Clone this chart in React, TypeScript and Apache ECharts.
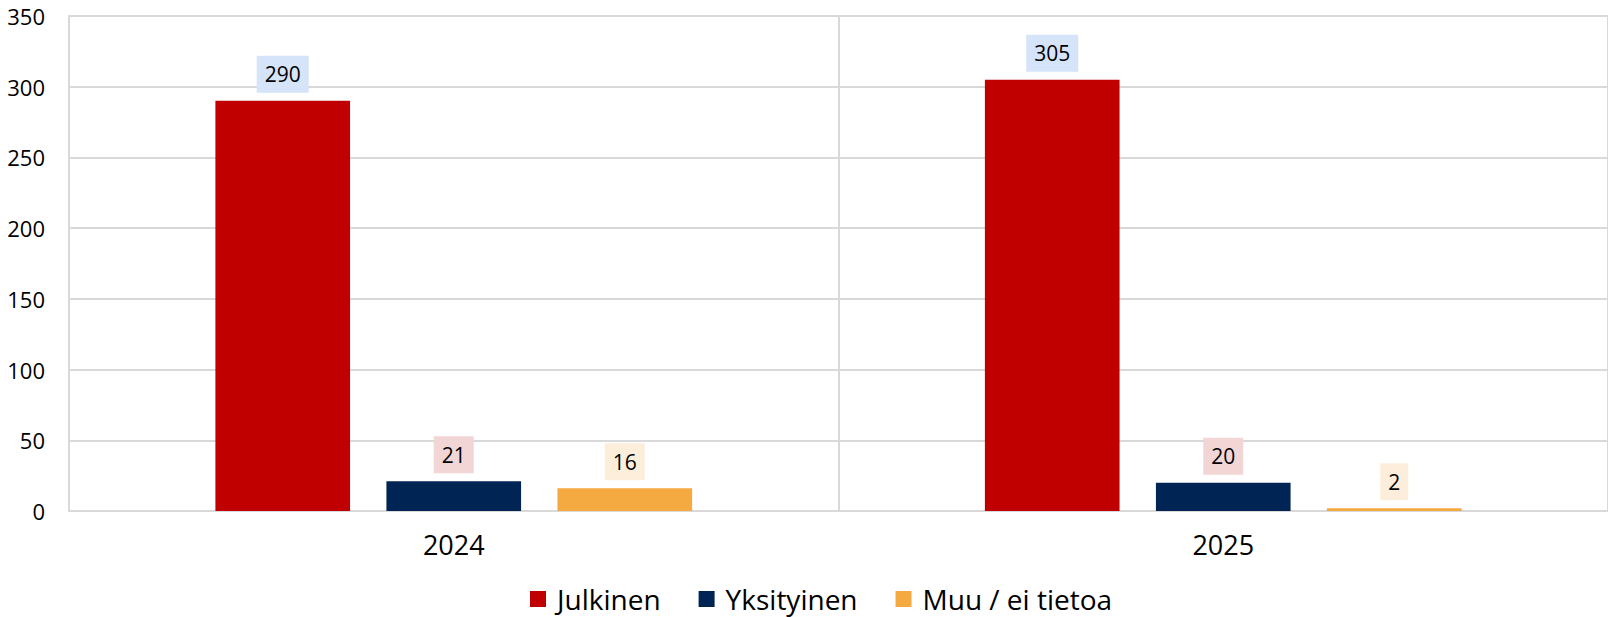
import React, { useEffect, useRef } from "react";
import * as echarts from "echarts";

const categories = ["2024", "2025"];
const seriesNames = ["Julkinen", "Yksityinen", "Muu / ei tietoa"];
const julkinen = [290, 305];
const yksityinen = [21, 20];
const muu = [16, 2];
const yTicks = { min: 0, max: 350, interval: 50 };

const barColors = ["#C00000", "#002454", "#F5A941"];
const labelBg = ["#D6E4F9", "#F2D6D6", "#FDEEDB"];

export default function App() {
  const ref = useRef<HTMLDivElement>(null);
  useEffect(() => {
    document.body.style.margin = "0";
    const chart = echarts.init(ref.current!, null, { renderer: "svg" });
    const font = "'Open Sans', sans-serif";
    const data = [julkinen, yksityinen, muu];
    chart.setOption({
      animation: false,
      textStyle: { fontFamily: font },
      grid: { left: 69, right: -3, top: 16, bottom: 106, containLabel: false },
      legend: {
        data: seriesNames,
        left: 530,
        top: 585,
        padding: 0,
        itemWidth: 16,
        itemHeight: 16,
        itemGap: 38,
        icon: "rect",
        textStyle: { fontSize: 28, color: "#000", fontFamily: font, padding: [0, 0, 0, 6] },
      },
      xAxis: {
        type: "category",
        data: categories,
        axisLine: { show: true, lineStyle: { color: "#D9D9D9", width: 2 } },
        axisTick: { show: false },
        splitLine: { show: true, lineStyle: { color: "#D9D9D9", width: 2 } },
        axisLabel: { fontSize: 27, color: "#000", margin: 20, fontFamily: font },
      },
      yAxis: {
        type: "value",
        min: yTicks.min,
        max: yTicks.max,
        interval: yTicks.interval,
        axisLine: { show: true, lineStyle: { color: "#D9D9D9", width: 2 } },
        axisTick: { show: false },
        splitLine: { show: true, lineStyle: { color: "#D9D9D9", width: 2 } },
        axisLabel: { fontSize: 22, color: "#000", margin: 24, fontFamily: font },
      },
      series: seriesNames.map((name, i) => ({
        name,
        type: "bar",
        data: data[i],
        barWidth: "17.5%",
        barGap: "27%",
        itemStyle: { color: barColors[i] },
        label: {
          show: true,
          position: "top",
          distance: 8,
          fontSize: 21,
          color: "#000",
          fontFamily: font,
          backgroundColor: labelBg[i],
          padding: [8, 8],
        },
      })),
    });
    return () => chart.dispose();
  }, []);
  return <div ref={ref} style={{ width: 1608, height: 617 }} />;
}
